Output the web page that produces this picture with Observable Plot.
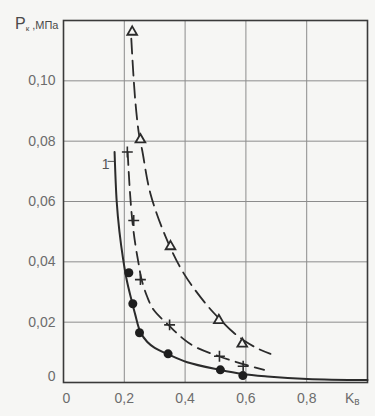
<!DOCTYPE html>
<html>
<head>
<meta charset="utf-8">
<script src="https://cdn.jsdelivr.net/npm/d3@7"></script>
<script src="https://cdn.jsdelivr.net/npm/@observablehq/plot@0.6"></script>
<style>
  html, body { margin: 0; padding: 0; background: #f6f6f4; }
  #chart { width: 375px; height: 416px; position: relative; }
</style>
</head>
<body>
<div id="chart"></div>
<script>
// ---- tick values and labels ----
const kTicks = [0, 0.2, 0.4, 0.6, 0.8];
const kTickLabels = ["0", "0,2", "0,4", "0,6", "0,8"];
const pTicks = [0, 0.02, 0.04, 0.06, 0.08, 0.10];
const pTickLabels = ["0", "0,02", "0,04", "0,06", "0,08", "0,10"];

// ---- series 1: filled circles + solid curve ----
const circK = [0.215, 0.228, 0.250, 0.344, 0.516, 0.590];
const circP = [0.0364, 0.0261, 0.0165, 0.0095, 0.0042, 0.0023];
const curve1K = [0.168, 0.175, 0.184, 0.196, 0.208, 0.222, 0.236, 0.252, 0.275, 0.300, 0.345, 0.407, 0.513, 0.588, 0.670, 0.802, 1.000];
const curve1P = [0.0764, 0.0600, 0.0500, 0.0410, 0.0340, 0.0280, 0.0225, 0.0170, 0.0135, 0.0115, 0.0093, 0.0067, 0.0042, 0.0028, 0.0020, 0.0012, 0.0008];

// ---- series 2: plus markers + dashed curve ----
const plusK = [0.210, 0.231, 0.253, 0.349, 0.513, 0.591];
const plusP = [0.0764, 0.0537, 0.0341, 0.0191, 0.0087, 0.0054];
const curve2K = [0.211, 0.218, 0.226, 0.236, 0.246, 0.256, 0.275, 0.297, 0.346, 0.390, 0.430, 0.511, 0.588, 0.660];
const curve2P = [0.0764, 0.0640, 0.0540, 0.0460, 0.0400, 0.0345, 0.0285, 0.0240, 0.0190, 0.0148, 0.0120, 0.0087, 0.0062, 0.0042];

// ---- series 3: open triangles + dashed curve ----
const triK = [0.226, 0.253, 0.352, 0.511, 0.588];
const triP = [0.1162, 0.0805, 0.0451, 0.0206, 0.0128];
const curve3K = [0.223, 0.229, 0.237, 0.248, 0.259, 0.286, 0.341, 0.396, 0.473, 0.516, 0.560, 0.600, 0.640, 0.681];
const curve3P = [0.1140, 0.1035, 0.0924, 0.0825, 0.0769, 0.0626, 0.0471, 0.0361, 0.0255, 0.0208, 0.0165, 0.0135, 0.0112, 0.0095];

// ---- curve label "1" ----
const labelText = ["1"];
const labelK = [0.139];
const labelP = [0.0722];
const leaderK = [0.146, 0.165];
const leaderP = [0.0733, 0.0733];

const zip = (xs, ys) => xs.map((x, i) => ({x, y: ys[i]}));
const ink = "#2b2b2b";

const plot = Plot.plot({
  width: 375,
  height: 416,
  marginLeft: 63,
  marginRight: 8,
  marginTop: 20,
  marginBottom: 34,
  style: {background: "#f6f6f4", fontFamily: "'Liberation Sans', Arial, sans-serif", fontSize: "14px", color: "#6c6c6c"},
  x: {domain: [0, 1]},
  y: {domain: [0, 0.12]},
  marks: [
    Plot.gridX(kTicks.slice(1), {stroke: "#8c8c8c", strokeOpacity: 1, strokeWidth: 1}),
    Plot.gridY(pTicks.slice(1), {stroke: "#8c8c8c", strokeOpacity: 1, strokeWidth: 1}),
    Plot.frame({stroke: "#3a3a3a", strokeWidth: 1.6}),
    Plot.axisX({ticks: kTicks, tickFormat: d => kTickLabels[kTicks.indexOf(d)], tickSize: 0, tickPadding: 11, label: null, fill: "#6c6c6c"}),
    Plot.axisY({ticks: pTicks, tickFormat: d => pTickLabels[pTicks.indexOf(d)], tickSize: 0, tickPadding: 8, label: null, fill: "#6c6c6c"}),
    Plot.line(zip(curve3K, curve3P), {x: "x", y: "y", curve: "catmull-rom", stroke: ink, strokeWidth: 1.8, strokeDasharray: "15,7"}),
    Plot.line(zip(curve2K, curve2P), {x: "x", y: "y", curve: "catmull-rom", stroke: ink, strokeWidth: 1.8, strokeDasharray: "13,7"}),
    Plot.line(zip(curve1K, curve1P), {x: "x", y: "y", curve: "catmull-rom", stroke: ink, strokeWidth: 2}),
    Plot.line(zip(leaderK, leaderP), {x: "x", y: "y", stroke: "#555", strokeWidth: 1}),
    Plot.dot(zip(circK, circP), {x: "x", y: "y", r: 4.5, fill: "#1e1e1e", stroke: "none"}),
    Plot.dot(zip(plusK, plusP), {x: "x", y: "y", symbol: "plus", r: 3.6, stroke: ink, strokeWidth: 1.6}),
    Plot.dot(zip(triK, triP), {x: "x", y: "y", symbol: "triangle", r: 3.6, stroke: ink, strokeWidth: 1.8, fill: "#f6f6f4"}),
    Plot.text(labelText, {x: labelK, y: labelP, text: d => d, fontSize: 14, fill: "#555"})
  ]
});

document.getElementById("chart").appendChild(plot);

const svg = d3.select(plot);
// shift the "0" y tick label up a little, as in the original
svg.selectAll("g[aria-label='y-axis tick label'] text").filter(function () { return this.textContent === "0"; }).attr("transform", function () { return (d3.select(this).attr("transform") || "") + " translate(0,-6)"; });
svg.selectAll("g[aria-label='x-axis tick label'] text").filter(function () { return this.textContent === "0"; }).attr("dx", "3");

// y-axis title: Pк ,МПа
const yt = svg.append("text").attr("x", 15).attr("y", 29).attr("text-anchor", "start").attr("fill", "#4a4a4a").style("font-family", "'Liberation Sans', Arial, sans-serif");
yt.append("tspan").attr("font-size", 16).text("P");
yt.append("tspan").attr("font-size", 8).attr("dy", 2).text("к");
yt.append("tspan").attr("font-size", 11).attr("dy", -2).text(" ,МПа");

// x-axis title: Kв
const xt = svg.append("text").attr("x", 345).attr("y", 403).attr("text-anchor", "start").attr("fill", "#6c6c6c").style("font-family", "'Liberation Sans', Arial, sans-serif");
xt.append("tspan").attr("font-size", 14).text("K");
xt.append("tspan").attr("font-size", 10).attr("dy", 2).text("в");
</script>
</body>
</html>
